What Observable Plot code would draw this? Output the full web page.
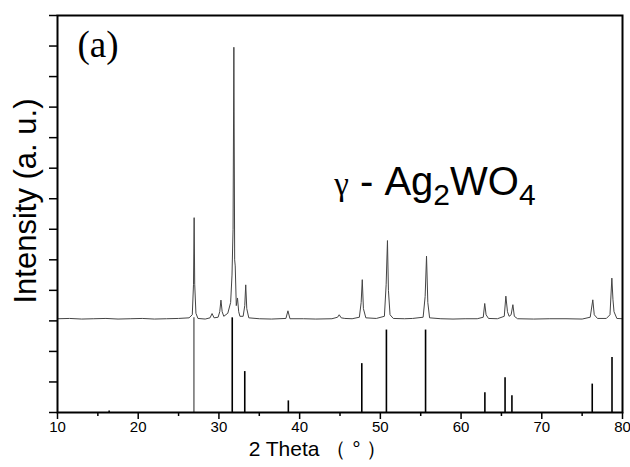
<!DOCTYPE html>
<html><head><meta charset="utf-8">
<script src="https://cdn.jsdelivr.net/npm/d3@7"></script>
<script src="https://cdn.jsdelivr.net/npm/@observablehq/plot@0.6"></script>
<style>body{margin:0;background:#fff;} svg{display:block;}</style>
</head><body><div id="chart"></div>
<script>
// Reference pattern (stick lines): 2θ positions and heights (axis units)
const refPos = [16.4, 26.9, 31.65, 33.2, 38.6, 47.7, 50.75, 55.6, 62.95, 65.45, 66.3, 76.25, 78.7];
const refInt = [0.05, 3.1, 3.1, 1.34, 0.38, 1.6, 2.7, 2.7, 0.65, 1.14, 0.55, 0.93, 1.8];
const refColor = ["#000", "#777", "#000", "#000", "#000", "#000", "#000", "#000", "#000", "#000", "#000", "#000", "#000"];

// Measured pattern (offset trace)
const traceX = [10, 11.5, 13, 14.5, 16, 17.5, 19, 20.5, 22, 23.5, 25, 26.3, 26.7, 26.85, 26.93, 27.0, 27.15, 27.4,
  28.3, 28.9, 29.15, 29.4, 29.9, 30.1, 30.25, 30.4, 30.6, 31.1, 31.45, 31.62, 31.75, 31.85, 31.95, 32.02, 32.15, 32.3, 32.45, 32.6,
  33.0, 33.2, 33.32, 33.45, 33.7, 35, 36.5, 38.3, 38.55, 38.8, 40.5, 42, 44, 44.7, 44.9, 45.15, 45.6, 46.5,
  47.4, 47.62, 47.76, 47.9, 48.2, 49.5, 50.5, 50.72, 50.88, 51.0, 51.2, 51.6, 53, 54, 55.3, 55.55, 55.72, 55.88, 56.1,
  57.5, 59, 60.5, 62, 62.75, 62.93, 63.1, 63.4, 64.5, 65.35, 65.55, 65.75, 65.95, 66.2, 66.42, 66.6, 67, 69, 71, 73, 75,
  76.0, 76.32, 76.5, 76.9, 78.0, 78.45, 78.68, 78.82, 78.95, 79.3, 80];
const traceY = [3.07, 3.08, 3.06, 3.07, 3.08, 3.06, 3.07, 3.08, 3.06, 3.07, 3.08, 3.1, 3.2, 4.2, 6.38, 4.2, 3.25, 3.08,
  3.06, 3.1, 3.24, 3.1, 3.12, 3.3, 3.68, 3.3, 3.15, 3.25, 3.6, 4.5, 6.0, 11.96, 5.0, 4.8, 3.5, 3.75, 3.3, 3.15,
  3.15, 3.5, 4.18, 3.4, 3.1, 3.07, 3.06, 3.08, 3.33, 3.07, 3.07, 3.06, 3.07, 3.12, 3.2, 3.1, 3.08, 3.07,
  3.12, 3.6, 4.35, 3.4, 3.1, 3.08, 3.15, 4.2, 5.63, 4.0, 3.2, 3.08, 3.07, 3.08, 3.12, 3.8, 5.12, 3.6, 3.1,
  3.07, 3.06, 3.07, 3.07, 3.12, 3.57, 3.2, 3.08, 3.07, 3.15, 3.81, 3.3, 3.15, 3.2, 3.53, 3.15, 3.07, 3.06, 3.07, 3.07, 3.06,
  3.12, 3.69, 3.2, 3.08, 3.08, 3.2, 4.40, 3.69, 3.3, 3.08, 3.07];

const xTicks = [10, 20, 30, 40, 50, 60, 70, 80];
const xMinor = [15, 25, 35, 45, 55, 65, 75];
const yTicks = [0, 1, 2, 3, 4, 5, 6, 7, 8, 9, 10, 11, 12, 13];

const refs = refPos.map((p, i) => ({pos: p, int: refInt[i], color: refColor[i]}));
const trace = traceX.map((x, i) => ({x, y: traceY[i]}));

const plot = Plot.plot({
  width: 630, height: 467,
  marginLeft: 57, marginRight: 8, marginTop: 15, marginBottom: 55,
  x: {domain: [10, 80]},
  y: {domain: [0, 13]},
  style: {fontFamily: "'Liberation Sans', Arial, sans-serif", fontSize: "15px", color: "#000", background: "#fff"},
  marks: [
    Plot.ruleX(refs, {x: "pos", y1: 0, y2: "int", stroke: "color", strokeWidth: 1.6}),
    Plot.line(trace, {x: "x", y: "y", stroke: "#444", strokeWidth: 1}),
    Plot.frame({stroke: "#000", strokeWidth: 2}),
    Plot.axisX({ticks: xTicks, tickSize: 7, tickPadding: 2, label: null, fontSize: 15, strokeWidth: 1.5}),
    Plot.axisX({ticks: xMinor, tickSize: 4, tickFormat: () => "", label: null, strokeWidth: 1.5}),
    Plot.axisY({ticks: yTicks, tickSize: 8, tickFormat: () => "", label: null, strokeWidth: 1.5}),
    Plot.text(["(a)"], {frameAnchor: "top-left", dx: 20, dy: 15, lineAnchor: "top", textAnchor: "start",
      fontFamily: "'Liberation Serif', 'Times New Roman', serif", fontSize: 37}),
    Plot.text(["Intensity (a. u.)"], {frameAnchor: "left", dx: -31, dy: -13, rotate: -90, textAnchor: "middle", fontSize: 31}),
    Plot.text(["2 Theta （ ° ）"], {frameAnchor: "bottom", dx: -22, dy: 43, fontSize: 21})
  ]
});
document.getElementById("chart").appendChild(plot);

// Compound label with subscripts
const sx = plot.scale("x"), sy = plot.scale("y");
const svg = d3.select(plot.tagName.toLowerCase() === "svg" ? plot : plot.querySelector("svg"));
const t = svg.append("text")
  .attr("x", sx.apply(44.35)).attr("y", sy.apply(7.1))
  .attr("text-anchor", "start")
  .attr("font-family", "'Liberation Sans', Arial, sans-serif").attr("font-size", 40).attr("fill", "#000");
t.append("tspan").attr("font-family", "'Liberation Serif', serif").attr("font-size", 33).text("γ");
t.append("tspan").text(" - Ag");
t.append("tspan").attr("font-size", 30).attr("dy", 10).text("2");
t.append("tspan").attr("dy", -10).text("WO");
t.append("tspan").attr("font-size", 30).attr("dy", 10).text("4");
</script>
</body></html>
